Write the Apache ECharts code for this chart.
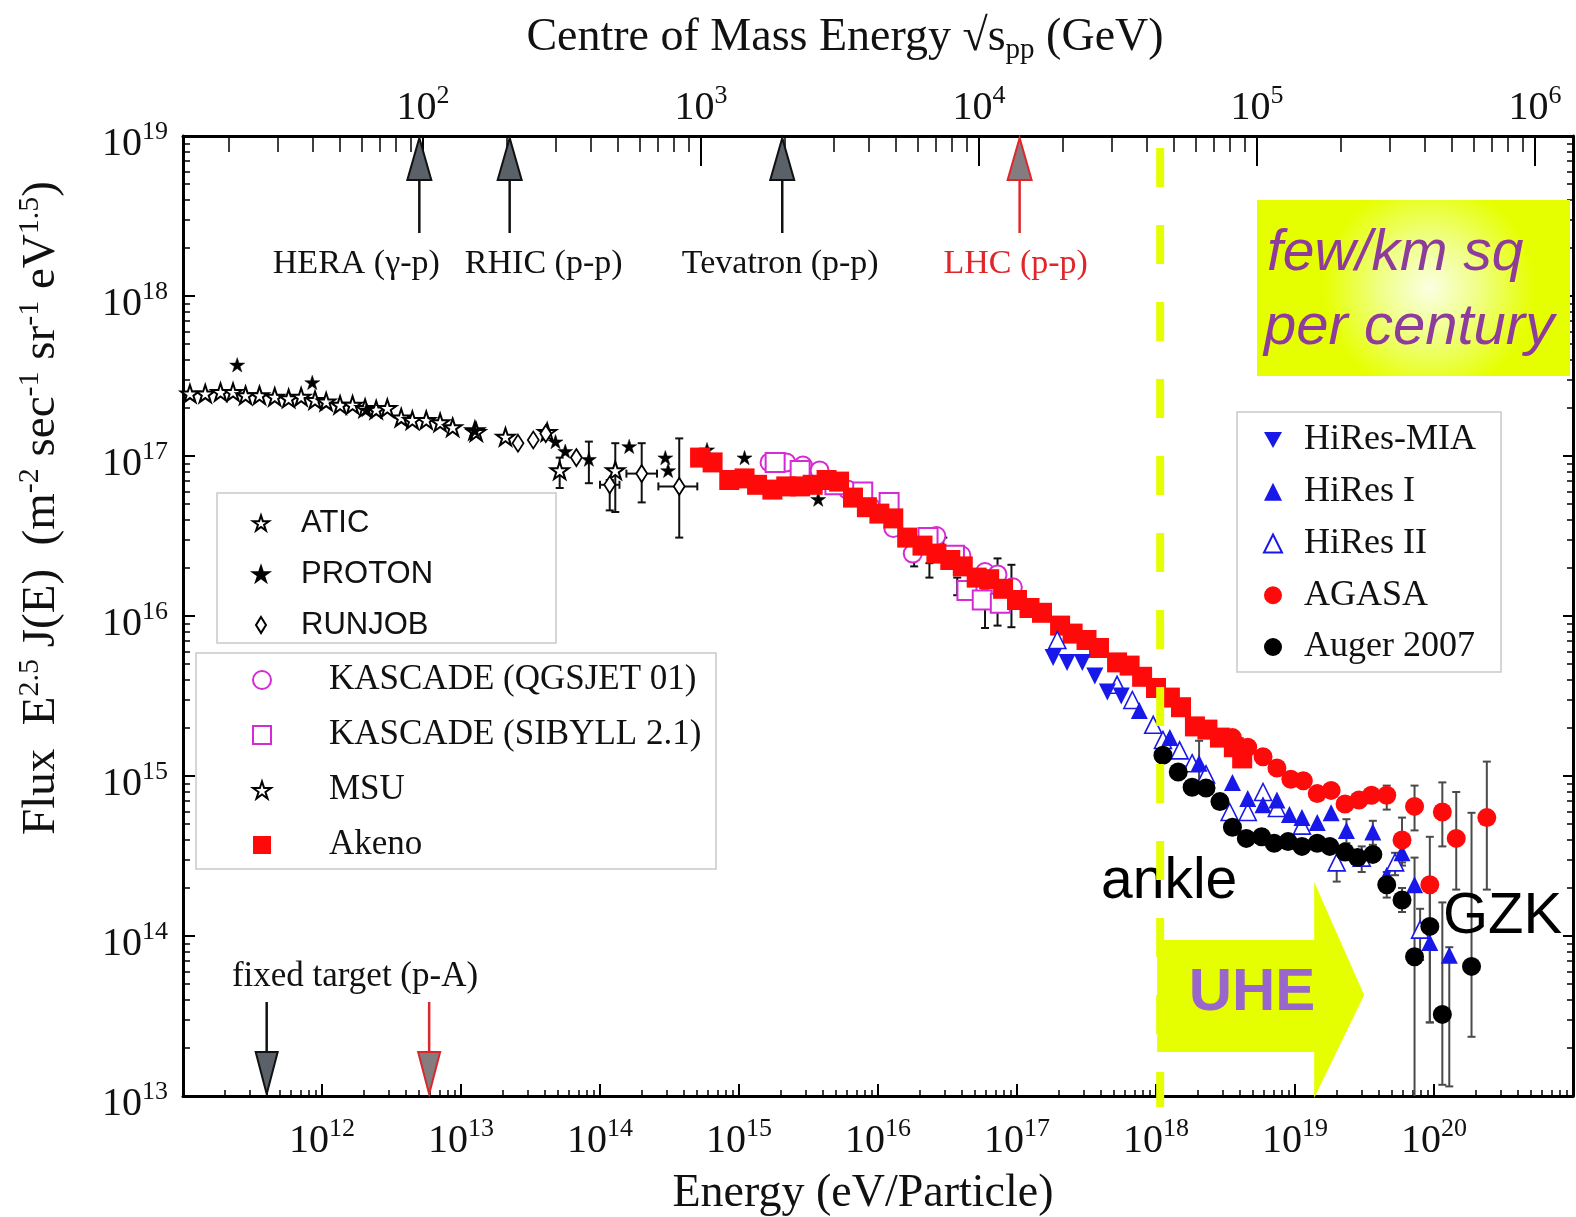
<!DOCTYPE html>
<html>
<head>
<meta charset="utf-8">
<script src="https://cdn.jsdelivr.net/npm/echarts@6/dist/echarts.min.js"></script>
<style>
  html, body { margin: 0; padding: 0; background: #fff; }
  #chart { width: 1576px; height: 1217px; }
</style>
</head>
<body>
<div id="chart"></div>
<script>
// Cosmic-ray spectrum. All points are [log10(E / eV), log10(E^2.5 J(E))].
const atic = [[11.05,17.39],[11.16,17.39],[11.27,17.40],[11.36,17.40],[11.45,17.38],[11.55,17.38],[11.66,17.37],[11.76,17.36],[11.85,17.37],[11.95,17.35],[12.03,17.34],[12.13,17.32],[12.22,17.32],[12.31,17.30],[12.39,17.29],[12.47,17.30],[12.57,17.24],[12.65,17.225],[12.75,17.225],[12.85,17.21],[12.94,17.18],[13.10,17.16]];
const proton = [[11.39,17.57],[11.93,17.46],[12.32,17.29],[13.10,17.16],[13.68,17.09],[13.75,17.03],[13.92,16.98],[14.21,17.06],[14.47,16.99],[14.49,16.91],[14.77,17.04],[15.04,16.99],[15.57,16.73]];
const runjob = [[13.41,17.08],[13.52,17.10],[13.61,17.14],[13.83,16.99],[14.07,16.82],[14.30,16.89],[14.57,16.81]];
const msu = [[13.11,17.15],[13.32,17.12],[13.62,17.15],[13.71,16.91],[14.11,16.91]];
const kascadeQgsjet = [[15.22,16.96],[15.34,16.96],[15.46,16.94],[15.58,16.91],[15.78,16.79],[15.95,16.68],[16.11,16.55],[16.25,16.39],[16.42,16.50],[16.60,16.38],[16.77,16.275],[16.86,16.26],[16.97,16.18]];
const kascadeSibyll = [[15.26,16.96],[15.44,16.91],[15.69,16.82],[15.89,16.775],[16.08,16.71],[16.36,16.49],[16.55,16.38],[16.64,16.16],[16.75,16.10],[16.88,16.08]];
const akeno = [[14.72,16.99],[14.81,16.96],[14.93,16.85],[15.04,16.86],[15.13,16.82],[15.24,16.79],[15.34,16.81],[15.44,16.81],[15.53,16.82],[15.63,16.85],[15.72,16.84],[15.82,16.74],[15.92,16.68],[16.01,16.64],[16.11,16.61],[16.21,16.49],[16.32,16.44],[16.42,16.39],[16.52,16.35],[16.61,16.31],[16.71,16.24],[16.80,16.23],[16.90,16.17],[17.00,16.10],[17.09,16.05],[17.18,16.02],[17.31,15.94],[17.40,15.89],[17.50,15.85],[17.59,15.80],[17.72,15.71],[17.81,15.69],[17.90,15.62],[18.00,15.55],[18.10,15.49],[18.18,15.43],[18.28,15.31],[18.37,15.29],[18.46,15.24],[18.56,15.18],[18.62,15.11]];
const hiresMia = [[17.26,15.74],[17.36,15.71],[17.47,15.71],[17.56,15.625],[17.65,15.525],[17.75,15.50]];
const hiresI = [[17.88,15.41],[18.10,15.24],[18.31,15.08],[18.55,14.96],[18.66,14.86],[18.77,14.82],[18.87,14.85],[18.96,14.76],[19.05,14.74],[19.16,14.71],[19.26,14.77],[19.37,14.66],[19.56,14.65],[19.66,14.38],[19.77,14.52],[19.86,14.32],[19.97,13.96],[20.11,13.88]];
const hiresII = [[17.29,15.85],[17.72,15.57],[17.83,15.475],[17.98,15.32],[18.05,15.225],[18.17,15.16],[18.26,15.08],[18.36,15.01],[18.53,14.775],[18.66,14.775],[18.77,14.90],[18.87,14.80],[19.05,14.69],[19.30,14.46],[19.48,14.49],[19.72,14.46],[19.90,14.04]];
const agasa = [[18.55,15.24],[18.66,15.18],[18.77,15.12],[18.87,15.05],[18.97,14.98],[19.06,14.97],[19.16,14.89],[19.26,14.91],[19.36,14.825],[19.46,14.85],[19.55,14.88],[19.66,14.88],[19.77,14.60],[19.86,14.81],[19.97,14.32],[20.06,14.775],[20.16,14.61],[20.38,14.74]];
const auger2007 = [[18.05,15.13],[18.16,15.025],[18.26,14.93],[18.36,14.925],[18.46,14.84],[18.55,14.68],[18.65,14.61],[18.76,14.62],[18.85,14.58],[18.95,14.59],[19.05,14.56],[19.16,14.58],[19.25,14.56],[19.36,14.525],[19.45,14.49],[19.56,14.51],[19.66,14.32],[19.77,14.225],[19.86,13.87],[19.97,14.06],[20.06,13.51],[20.27,13.81]];

// Error bars: [x, y, yLow, yHigh, xLow, xHigh] (log10 units)
const lowEnergyErrors = [[13.92,16.98,16.83,17.09,13.92,13.92],[14.07,16.82,16.66,16.85,14.00,14.14],[14.30,16.89,16.71,17.08,14.19,14.41],[14.57,16.81,16.49,17.11,14.42,14.70],[13.71,16.91,16.80,16.99,13.71,13.71],[14.11,16.91,16.65,17.08,14.11,14.11]];
const kneeErrors = [[16.26,16.34,16.31,16.37,16.26,16.26],[16.37,16.28,16.24,16.33,16.37,16.37],[16.47,16.45,16.41,16.49,16.47,16.47],[16.57,16.18,16.13,16.24,16.57,16.57],[16.66,16.14,16.10,16.18,16.66,16.66],[16.77,16.04,15.925,16.16,16.77,16.77],[16.86,16.15,15.94,16.36,16.86,16.86],[16.96,16.12,15.93,16.32,16.96,16.96]];
const uheErrors = [
  [19.55,14.88,14.83,14.92],[19.66,14.88,14.79,14.94],[19.77,14.60,14.46,14.74],[19.86,14.81,14.66,14.94],[20.06,14.775,14.56,14.96],[20.16,14.61,14.29,14.90],[20.38,14.74,14.29,15.09],
  [19.66,14.32,14.24,14.40],[19.77,14.225,14.15,14.30],[19.86,13.87,12.90,14.49],[19.97,14.06,13.46,14.62],[20.06,13.51,13.07,14.21],[20.27,13.81,13.37,14.77],
  [18.31,15.08,14.92,15.22],[19.37,14.66,14.58,14.73],[19.56,14.65,14.57,14.72],[19.77,14.52,14.44,14.60],[19.97,13.96,13.46,14.29],[20.11,13.88,13.06,13.93],
  [19.30,14.46,14.34,14.55],[19.48,14.49,14.40,14.56],[19.72,14.46,14.38,14.52],[19.90,14.04,13.85,14.17]
].map(r => r.concat([r[0], r[0]]));

// Tick decades
const energyDecades = [12, 13, 14, 15, 16, 17, 18, 19, 20];
const fluxDecades = [13, 14, 15, 16, 17, 18, 19];
const sqrtsDecades = [2, 3, 4, 5, 6];

// Collider reach in centre-of-mass energy (GeV) and fixed-target beam energies (eV)
const colliders = [
  { label: 'HERA (\u03b3-p)', sqrtS: 97, color: '#111', fill: '#5b6168', dx: -63 },
  { label: 'RHIC (p-p)', sqrtS: 205, color: '#111', fill: '#5b6168', dx: 34 },
  { label: 'Tevatron (p-p)', sqrtS: 1960, color: '#111', fill: '#5b6168', dx: -2 },
  { label: 'LHC (p-p)', sqrtS: 14000, color: '#e0262b', fill: '#857c80', dx: -4 }
];
const fixedTargetE = [
  { e: 4.0e11, color: '#111', fill: '#5b6168' },
  { e: 5.9e12, color: '#d8282c', fill: '#857c80' }
];
const ankleLogE = 18.03;

const SERIF = 'Liberation Serif';
const SANS = 'Liberation Sans';
const LOG_2MP = Math.log10(2 * 0.938272);           // 2 m_p in GeV
const sqrtsToLogE = s => 2 * Math.log10(s) + 9 - LOG_2MP;

const minorE = [], minorF = [], minorS = [];
for (let n = 11; n <= 20; n++) for (let k = 2; k <= 9; k++) minorE.push(n + Math.log10(k));
for (let n = 13; n <= 18; n++) for (let k = 2; k <= 9; k++) minorF.push(n + Math.log10(k));
for (let n = 1; n <= 5; n++) for (let k = 2; k <= 9; k++) {
  const v = sqrtsToLogE(k * Math.pow(10, n));
  if (v > 11 && v < 21) minorS.push(v);
}
const majorS = sqrtsDecades.map(n => sqrtsToLogE(Math.pow(10, n)));

const tickRich = {
  b: { fontFamily: SERIF, fontSize: 40, lineHeight: 50, color: '#111' },
  s: { fontFamily: SERIF, fontSize: 26, lineHeight: 26, verticalAlign: 'top', color: '#111' }
};
const pow10 = n => '{b|10}{s|' + n + '}';

const STAR = 'path://M50,0 L61.8,36.2 L100,36.2 L69.1,58.8 L80.9,95.1 L50,72.6 L19.1,95.1 L30.9,58.8 L0,36.2 L38.2,36.2 Z';
const DOWN_TRIANGLE = 'path://M0,0 L20,0 L10,18 Z';
const TALL_DIAMOND = 'path://M5,0 L10,8 L5,16 L0,8 Z';

function scatter(name, data, symbol, size, fill, stroke, bw, extra) {
  return Object.assign({
    type: 'scatter', name, data, symbol, symbolSize: size, symbolKeepAspect: true,
    itemStyle: { color: fill, borderColor: stroke, borderWidth: bw, opacity: 1 },
    emphasis: { disabled: true }, silent: true, animation: false
  }, extra || {});
}

function errorBars(name, data, color, width, cap) {
  return {
    type: 'custom', name, data, clip: true, silent: true, animation: false,
    encode: { x: 0, y: 1 },
    renderItem: function (params, api) {
      const x = api.value(0), y = api.value(1), lo = api.value(2), hi = api.value(3);
      const xlo = api.value(4), xhi = api.value(5);
      const st = { stroke: color, lineWidth: width };
      const a = api.coord([x, lo]), b = api.coord([x, hi]);
      const kids = [
        { type: 'line', shape: { x1: a[0], y1: a[1], x2: b[0], y2: b[1] }, style: st },
        { type: 'line', shape: { x1: a[0] - cap, y1: a[1], x2: a[0] + cap, y2: a[1] }, style: st },
        { type: 'line', shape: { x1: b[0] - cap, y1: b[1], x2: b[0] + cap, y2: b[1] }, style: st }
      ];
      if (xhi > xlo) {
        const c = api.coord([xlo, y]), d = api.coord([xhi, y]);
        kids.push({ type: 'line', shape: { x1: c[0], y1: c[1], x2: d[0], y2: d[1] }, style: st });
        kids.push({ type: 'line', shape: { x1: c[0], y1: c[1] - cap, x2: c[0], y2: c[1] + cap }, style: st });
        kids.push({ type: 'line', shape: { x1: d[0], y1: d[1] - cap, x2: d[0], y2: d[1] + cap }, style: st });
      }
      return { type: 'group', children: kids };
    }
  };
}

function valueAxis(pos, extra) {
  return Object.assign({
    type: 'value', position: pos, splitLine: { show: false },
    axisLine: { show: true, onZero: false, lineStyle: { color: '#000', width: 3 } },
    axisLabel: { show: false }
  }, extra);
}
const tick = (len, vals, w) => ({ show: true, inside: true, length: len, customValues: vals, lineStyle: { color: '#000', width: w } });

const RED = '#ff0a0a', BLUE = '#1818e8', MAG = '#d52bd5';

const legendBase = {
  orient: 'vertical', padding: 0, itemWidth: 18, itemHeight: 18, selectedMode: false, z: 20
};

const option = {
  animation: false,
  backgroundColor: '#fff',
  grid: { left: 183, right: 3, top: 136, bottom: 121, containLabel: false, outerBoundsMode: 'none' },
  xAxis: [
    valueAxis('bottom', { min: 11, max: 21, axisTick: tick(12, energyDecades, 2),
      axisLabel: { show: true, customValues: energyDecades, formatter: v => pow10(Math.round(v)), rich: tickRich, margin: 20 } }),
    valueAxis('bottom', { min: 11, max: 21, axisLine: { show: false }, axisTick: tick(6, minorE, 1.5) }),
    valueAxis('top', { min: 11, max: 21, axisTick: tick(30, majorS, 2),
      axisLabel: { show: true, customValues: majorS, formatter: v => pow10(Math.round((v - 9 + LOG_2MP) / 2)), rich: tickRich, margin: 3 } }),
    valueAxis('top', { min: 11, max: 21, axisLine: { show: false }, axisTick: tick(16, minorS, 1.5) })
  ],
  yAxis: [
    valueAxis('left', { min: 13, max: 19, axisTick: tick(12, fluxDecades, 2),
      axisLabel: { show: true, customValues: fluxDecades, formatter: v => pow10(Math.round(v)), rich: tickRich, margin: 15, padding: [16, 0, 0, 0] } }),
    valueAxis('left', { min: 13, max: 19, axisLine: { show: false }, axisTick: tick(7, minorF, 1.5) }),
    valueAxis('right', { min: 13, max: 19, axisTick: tick(10, fluxDecades, 2) }),
    valueAxis('right', { min: 13, max: 19, axisLine: { show: false }, axisTick: tick(6, minorF, 1.5) })
  ],
  legend: [
    Object.assign({}, legendBase, { data: ['ATIC', 'PROTON', { name: 'RUNJOB', icon: TALL_DIAMOND }], left: 252, top: 505, itemGap: 15, itemWidth: 16, itemHeight: 16,
      textStyle: { fontFamily: SANS, fontSize: 31, color: '#111', lineHeight: 36, padding: [0, 0, 0, 27] } }),
    Object.assign({}, legendBase, { data: ['KASCADE (QGSJET 01)', 'KASCADE (SIBYLL 2.1)', 'MSU', 'Akeno'], left: 252, top: 662, itemGap: 19,
      textStyle: { fontFamily: SERIF, fontSize: 35, color: '#111', lineHeight: 36, padding: [0, 0, 0, 53] } }),
    Object.assign({}, legendBase, { data: [{ name: 'HiRes-MIA', icon: DOWN_TRIANGLE }, 'HiRes I', 'HiRes II', 'AGASA', 'Auger 2007'], left: 1263, top: 422, itemGap: 15.75,
      textStyle: { fontFamily: SERIF, fontSize: 36, color: '#111', lineHeight: 36, padding: [0, 0, 0, 17] } })
  ],
  series: [
    scatter('ATIC', atic, STAR, 18, '#fff', '#000', 2),
    scatter('MSU', msu, STAR, 18, '#fff', '#000', 2),
    scatter('RUNJOB', runjob, 'diamond', [11, 17], '#fff', '#000', 1.8),
    errorBars('low-energy errors', lowEnergyErrors, '#111', 2, 4),
    scatter('PROTON', proton, STAR, 15, '#000', '#000', 0.5),
    scatter('KASCADE (QGSJET 01)', kascadeQgsjet, 'circle', 18, '#fff', MAG, 2),
    scatter('KASCADE (SIBYLL 2.1)', kascadeSibyll, 'rect', 19, '#fff', MAG, 2),
    errorBars('knee errors', kneeErrors, '#111', 2, 4),
    scatter('Akeno', akeno, 'rect', 20, RED, RED, 0),
    errorBars('UHE errors', uheErrors, '#4a4a4a', 2, 4),
    scatter('HiRes II', hiresII, 'triangle', 17, '#fff', BLUE, 1.6),
    scatter('HiRes-MIA', hiresMia, 'triangle', 17, BLUE, BLUE, 0, { symbolRotate: 180 }),
    scatter('HiRes I', hiresI, 'triangle', 17, BLUE, BLUE, 0),
    scatter('AGASA', agasa, 'circle', 19, RED, RED, 0),
    scatter('Auger 2007', auger2007, 'circle', 19, '#000', '#000', 0)
  ]
};

const chart = echarts.init(document.getElementById('chart'), null, { renderer: 'canvas' });
chart.setOption(option);

// Annotations placed through the axis scales
const px = v => chart.convertToPixel({ xAxisIndex: 0 }, v);
const py = v => chart.convertToPixel({ yAxisIndex: 0 }, v);
const topY = py(19), botY = py(13);
const YELLOW = '#e6ff00';
const g = [];

// Axis titles
g.push({ type: 'text', x: 845, y: 38, z: 30, style: {
  text: '{n|Centre of Mass Energy \u221as}{sub|pp}{n| (GeV)}', align: 'center', verticalAlign: 'middle',
  rich: { n: { fontFamily: SERIF, fontSize: 46, lineHeight: 54, fill: '#111' },
          sub: { fontFamily: SERIF, fontSize: 29, lineHeight: 29, verticalAlign: 'bottom', fill: '#111' } } } });
g.push({ type: 'text', x: 863, y: 1194, z: 30, style: {
  text: 'Energy (eV/Particle)', align: 'center', verticalAlign: 'middle', fontFamily: SERIF, fontSize: 46, fill: '#111' } });
g.push({ type: 'text', x: 42, y: 508, rotation: Math.PI / 2, z: 30, style: {
  text: '{n|Flux  E}{s|2.5}{n| J(E)  (m}{s|-2}{n| sec}{s|-1}{n| sr}{s|-1}{n| eV}{s|1.5}{n|)}',
  align: 'center', verticalAlign: 'middle',
  rich: { n: { fontFamily: SERIF, fontSize: 47, lineHeight: 54, fill: '#111' },
          s: { fontFamily: SERIF, fontSize: 30, lineHeight: 30, verticalAlign: 'top', fill: '#111' } } } });

// Collider arrows along the top axis
colliders.forEach(c => {
  const x = px(sqrtsToLogE(c.sqrtS));
  g.push({ type: 'line', z: 12, shape: { x1: x, y1: topY + 40, x2: x, y2: topY + 97 }, style: { stroke: c.color, lineWidth: 2.5 } });
  g.push({ type: 'polygon', z: 12, shape: { points: [[x, topY + 2], [x - 12, topY + 44], [x + 12, topY + 44]] },
    style: { fill: c.fill, stroke: c.color, lineWidth: 2 } });
  g.push({ type: 'text', z: 12, x: x + c.dx, y: topY + 128, style: { text: c.label, align: 'center', verticalAlign: 'middle',
    fontFamily: SERIF, fontSize: 34, fill: c.color } });
});

// Fixed-target arrows along the bottom axis
fixedTargetE.forEach(f => {
  const x = px(Math.log10(f.e));
  g.push({ type: 'line', z: 12, shape: { x1: x, y1: botY - 94, x2: x, y2: botY - 40 }, style: { stroke: f.color, lineWidth: 2.5 } });
  g.push({ type: 'polygon', z: 12, shape: { points: [[x, botY - 2], [x - 11, botY - 44], [x + 11, botY - 44]] },
    style: { fill: f.fill, stroke: f.color, lineWidth: 2 } });
});
g.push({ type: 'text', z: 12, x: 355, y: botY - 119, style: { text: 'fixed target (p-A)', align: 'center', verticalAlign: 'middle',
  fontFamily: SERIF, fontSize: 35, fill: '#111' } });

// Legend frames
[[217, 493, 339, 150], [196, 653, 520, 216], [1237, 412, 264, 260]].forEach(r => {
  g.push({ type: 'rect', z: 15, shape: { x: r[0], y: r[1], width: r[2], height: r[3] },
    style: { fill: '#fff', stroke: '#c9c9c9', lineWidth: 1.5 } });
});

// Rate box
g.push({ type: 'rect', z: 12, shape: { x: 1257, y: 200, width: 313, height: 176 }, style: {
  fill: { type: 'radial', x: 0.55, y: 0.5, r: 0.6, colorStops: [
    { offset: 0, color: '#fbffe2' }, { offset: 0.45, color: '#f0ff8a' }, { offset: 1, color: YELLOW }] } } });
g.push({ type: 'text', z: 13, x: 1267, y: 254, style: { text: 'few/km sq', fontFamily: SANS, fontStyle: 'italic', fontSize: 57,
  fill: '#8e3c9c', verticalAlign: 'middle' } });
g.push({ type: 'text', z: 13, x: 1264, y: 328, style: { text: 'per century', fontFamily: SANS, fontStyle: 'italic', fontSize: 58,
  fill: '#8e3c9c', verticalAlign: 'middle' } });

// UHE arrow starting at the ankle
const ax = px(ankleLogE);
const xl = ax - 3, xb = ax + 154, xt = ax + 204;
g.push({ type: 'polygon', z: 11, shape: { points: [[xl, botY - 156], [xb, botY - 156], [xb, botY - 214], [xt, botY - 101],
  [xb, botY + 2], [xb, botY - 44], [xl, botY - 44]] }, style: { fill: YELLOW } });
g.push({ type: 'text', z: 13, x: 1252, y: 993, style: { text: 'UHE', align: 'center', verticalAlign: 'middle',
  fontFamily: SANS, fontWeight: 'bold', fontSize: 60, fill: '#9966cc',
  textShadowColor: '#1a1a1a', textShadowOffsetX: 3, textShadowOffsetY: 3, textShadowBlur: 0 } });
g.push({ type: 'text', z: 13, x: 1101, y: 882, style: { text: 'ankle', verticalAlign: 'middle', fontFamily: SANS, fontSize: 57, fill: '#000' } });
g.push({ type: 'text', z: 13, x: 1443, y: 917, style: { text: 'GZK', verticalAlign: 'middle', fontFamily: SANS, fontSize: 58, fill: '#000' } });

// Ankle marker
g.push({ type: 'line', z: 14, shape: { x1: ax, y1: topY + 12, x2: ax, y2: botY + 11 },
  style: { stroke: YELLOW, lineWidth: 8, lineDash: [39, 38] } });

chart.setOption({ graphic: { elements: g } });
</script>
</body>
</html>
